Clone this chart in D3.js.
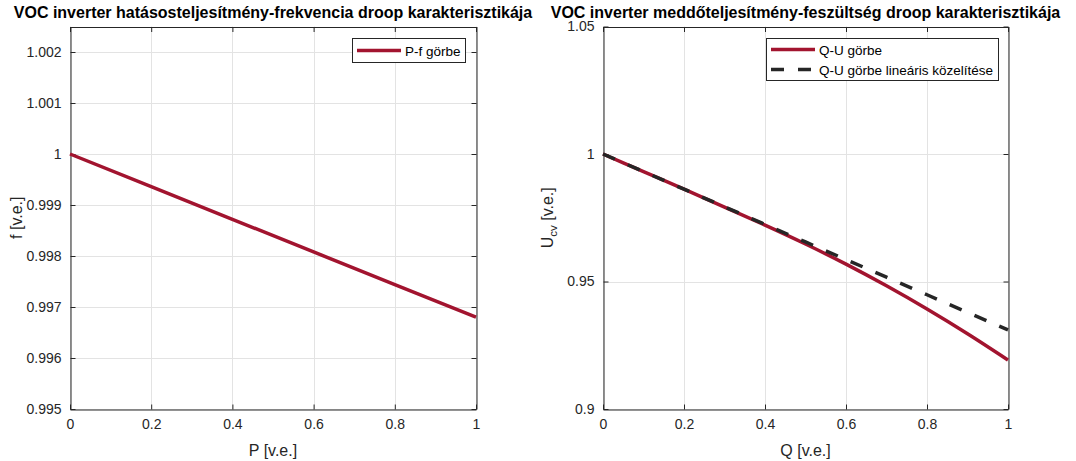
<!DOCTYPE html>
<html>
<head>
<meta charset="utf-8">
<script src="https://cdn.jsdelivr.net/npm/d3@7"></script>
<style>
  html, body { margin: 0; padding: 0; background: #fff; }
  svg { display: block; font-family: "Liberation Sans", Arial, Helvetica, sans-serif; }
</style>
</head>
<body>
<svg id="chart" width="1076" height="461"></svg>
<script>
// ---- data ----
const pValues = [0, 0.2, 0.4, 0.6, 0.8, 1.0];
const fValues = [1.0, 0.99936, 0.99872, 0.99808, 0.99744, 0.9968];

const qValues = [0, 0.1, 0.2, 0.3, 0.4, 0.5, 0.6, 0.7, 0.8, 0.9, 1.0];
const uValues = [1.0, 0.9931, 0.9862, 0.9792, 0.9721, 0.9647, 0.9568, 0.9483, 0.9392, 0.9295, 0.9192];
const uLinear = [1.0, 0.9931, 0.9862, 0.9793, 0.9724, 0.9655, 0.9586, 0.9517, 0.9448, 0.9379, 0.931];

const xTicks = [0, 0.2, 0.4, 0.6, 0.8, 1];
const xTickLabels = ["0", "0.2", "0.4", "0.6", "0.8", "1"];
const fTicks = [0.995, 0.996, 0.997, 0.998, 0.999, 1, 1.001, 1.002];
const fTickLabels = ["0.995", "0.996", "0.997", "0.998", "0.999", "1", "1.001", "1.002"];
const uTicks = [0.9, 0.95, 1, 1.05];
const uTickLabels = ["0.9", "0.95", "1", "1.05"];

const titles = [
  "VOC inverter hatásosteljesítmény-frekvencia droop karakterisztikája",
  "VOC inverter meddőteljesítmény-feszültség droop karakterisztikája"
];

// ---- styles ----
const RED = "#A2142F";
const DARK = "#262626";
const GRID = "#e3e3e3";
const TICK_LEN = 5;
const FONT = "Liberation Sans, Arial, sans-serif";

const svg = d3.select("#chart");

function panel(opts) {
  const { left, right, top, bottom, xDomain, yDomain, yTicks, yTickLabels, title, xLabel } = opts;
  const x = d3.scaleLinear().domain(xDomain).range([left, right]);
  const y = d3.scaleLinear().domain(yDomain).range([bottom, top]);
  const g = svg.append("g");

  // grid
  g.selectAll("line.gx").data(xTicks).enter().append("line")
    .attr("x1", d => Math.round(x(d)) + 0.5).attr("x2", d => Math.round(x(d)) + 0.5)
    .attr("y1", top).attr("y2", bottom).attr("stroke", GRID).attr("stroke-width", 1);
  g.selectAll("line.gy").data(yTicks).enter().append("line")
    .attr("y1", d => Math.round(y(d)) + 0.5).attr("y2", d => Math.round(y(d)) + 0.5)
    .attr("x1", left).attr("x2", right).attr("stroke", GRID).attr("stroke-width", 1);

  // axes via d3 axis generators (ticks drawn inward)
  const axB = d3.axisBottom(x).tickValues(xTicks).tickFormat((d, i) => xTickLabels[i])
    .tickSizeInner(-TICK_LEN).tickSizeOuter(0).tickPadding(10);
  const axT = d3.axisTop(x).tickValues(xTicks).tickFormat("")
    .tickSizeInner(-TICK_LEN).tickSizeOuter(0);
  const axL = d3.axisLeft(y).tickValues(yTicks).tickFormat((d, i) => yTickLabels[i])
    .tickSizeInner(-TICK_LEN).tickSizeOuter(0).tickPadding(9);
  const axR = d3.axisRight(y).tickValues(yTicks).tickFormat("")
    .tickSizeInner(-TICK_LEN).tickSizeOuter(0);

  const styleAxis = sel => {
    sel.attr("font-size", 14).attr("font-family", FONT);
    sel.selectAll("path").attr("stroke", DARK).attr("stroke-width", 1);
    sel.selectAll("line").attr("stroke", DARK).attr("stroke-width", 1);
    sel.selectAll("text").attr("fill", DARK).attr("font-size", 14).attr("font-family", FONT);
  };
  g.append("g").attr("transform", `translate(0,${bottom + 0.5})`).call(axB).call(styleAxis);
  g.append("g").attr("transform", `translate(0,${top + 0.5})`).call(axT).call(styleAxis);
  g.append("g").attr("transform", `translate(${left + 0.5},0)`).call(axL).call(styleAxis);
  g.append("g").attr("transform", `translate(${right + 0.5},0)`).call(axR).call(styleAxis);

  // title
  g.append("text").attr("x", (left + right) / 2).attr("y", 18)
    .attr("text-anchor", "middle").attr("font-weight", "bold").attr("font-size", 16)
    .attr("fill", "#000").text(title);

  // x label
  g.append("text").attr("x", (left + right) / 2).attr("y", 456)
    .attr("text-anchor", "middle").attr("font-size", 16).attr("fill", DARK).text(xLabel);

  return { g, x, y };
}

// ---- left panel: P-f ----
const L = panel({
  left: 70, right: 476, top: 26.5, bottom: 409,
  xDomain: [0, 1], yDomain: [0.995, 1.0025],
  yTicks: fTicks, yTickLabels: fTickLabels,
  title: titles[0], xLabel: "P [v.e.]"
});
L.g.append("text")
  .attr("transform", `translate(22,${(26.5 + 409) / 2}) rotate(-90)`)
  .attr("text-anchor", "middle").attr("font-size", 16).attr("fill", DARK)
  .text("f [v.e.]");

const lineL = d3.line().x((d, i) => L.x(pValues[i])).y(d => L.y(d));
L.g.append("path").datum(fValues).attr("d", lineL)
  .attr("fill", "none").attr("stroke", RED).attr("stroke-width", 3.5);

// legend (left)
{
  const lg = L.g.append("g");
  lg.append("rect").attr("x", 352.5).attr("y", 38.5).attr("width", 113).attr("height", 24)
    .attr("fill", "#fff").attr("stroke", DARK).attr("stroke-width", 1);
  lg.append("line").attr("x1", 357).attr("x2", 401).attr("y1", 50.5).attr("y2", 50.5)
    .attr("stroke", RED).attr("stroke-width", 3.5);
  lg.append("text").attr("x", 405).attr("y", 55.5).attr("font-size", 13.5).attr("fill", "#000")
    .text("P-f görbe");
}

// ---- right panel: Q-U ----
const R = panel({
  left: 603, right: 1008, top: 26.5, bottom: 409,
  xDomain: [0, 1], yDomain: [0.9, 1.05],
  yTicks: uTicks, yTickLabels: uTickLabels,
  title: titles[1], xLabel: "Q [v.e.]"
});
{
  const t = R.g.append("text")
    .attr("transform", `translate(553,${(26.5 + 409) / 2}) rotate(-90)`)
    .attr("text-anchor", "middle").attr("font-size", 16).attr("fill", DARK);
  t.append("tspan").text("U");
  t.append("tspan").attr("font-size", 11.5).attr("dy", 4).text("cv");
  t.append("tspan").attr("dy", -4).text(" [v.e.]");
}

const lineR = d3.line().x((d, i) => R.x(qValues[i])).y(d => R.y(d)).curve(d3.curveMonotoneX);
R.g.append("path").datum(uValues).attr("d", lineR)
  .attr("fill", "none").attr("stroke", RED).attr("stroke-width", 3.5);
R.g.append("path").datum(uLinear).attr("d", lineR)
  .attr("fill", "none").attr("stroke", DARK).attr("stroke-width", 3.5)
  .attr("stroke-dasharray", "13,14");

// legend (right)
{
  const lg = R.g.append("g");
  lg.append("rect").attr("x", 766.5).attr("y", 38.5).attr("width", 232).attr("height", 42)
    .attr("fill", "#fff").attr("stroke", DARK).attr("stroke-width", 1);
  lg.append("line").attr("x1", 771).attr("x2", 815).attr("y1", 49.5).attr("y2", 49.5)
    .attr("stroke", RED).attr("stroke-width", 3.5);
  lg.append("text").attr("x", 819).attr("y", 54.5).attr("font-size", 13.5).attr("fill", "#000")
    .text("Q-U görbe");
  lg.append("line").attr("x1", 771).attr("x2", 815).attr("y1", 69.5).attr("y2", 69.5)
    .attr("stroke", DARK).attr("stroke-width", 3.5).attr("stroke-dasharray", "13,14");
  lg.append("text").attr("x", 819).attr("y", 74.5).attr("font-size", 13.5).attr("fill", "#000")
    .text("Q-U görbe lineáris közelítése");
}
</script>
</body>
</html>
